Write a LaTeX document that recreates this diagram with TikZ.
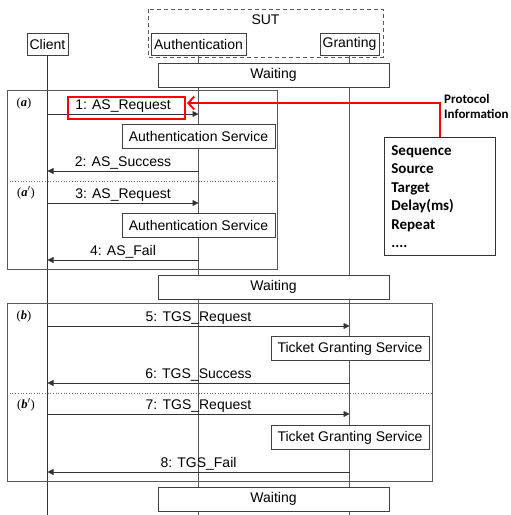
\documentclass[tikz,border=0pt]{standalone}
\usepackage{fontspec}
\setmainfont{Liberation Sans}
\newfontfamily\protofont{Carlito}
\newfontfamily\serifbi{Liberation Serif}
\usetikzlibrary{arrows.meta}
\tikzset{
  x=1pt, y=-1pt,
  lane/.style={draw=black!75, fill=white, line width=0.8pt, inner sep=0pt, font=\fontsize{14}{16}\selectfont},
  wait/.style={lane, minimum width=231pt, minimum height=24pt},
  svc/.style={lane, minimum height=24pt},
  life/.style={draw=black!65, line width=0.8pt},
  frm/.style={draw=black!65, line width=0.9pt},
  sep/.style={draw=black!60, dotted, line width=0.7pt},
  msg/.style={draw=black!80, line width=0.8pt, -{Triangle[length=6pt,width=6pt]}},
  msglabel/.style={font=\fontsize{14}{16}\selectfont, inner sep=1pt, above},
  tag/.style={font=\serifbi\fontsize{12.5}{14}\selectfont, inner sep=0pt},
  redline/.style={draw=red, line width=1.8pt, -{Straight Barb[length=6pt,width=13pt,line width=1.8pt]}}
}
\begin{document}
\begin{tikzpicture}
\useasboundingbox (0,0) rectangle (511,515);
% SUT group
\draw[black!65, dashed, line width=0.8pt, dash pattern=on 4pt off 3pt] (148,9) rectangle (383,57);
\node[font=\fontsize{14}{16}\selectfont] (sut) at (265.5,20) {SUT};
% heads
\node[lane, minimum width=41pt, minimum height=22pt] (client) at (47.5,44) {Client};
\node[lane, minimum width=95pt, minimum height=22pt] (auth) at (198.5,44) {Authentication};
\node[lane, minimum width=59pt, minimum height=22pt] (grant) at (349.5,44) {Granting};
% lifeline ends
\coordinate (cend) at (47.5,515);
\coordinate (aend) at (198.5,515);
\coordinate (gend) at (349.5,515);
\draw[life, draw=black!80] (client.south) -- (cend);
\draw[life] (auth.south) -- (aend);
\draw[life] (grant.south) -- (gend);
% frames
\draw[frm] (7,90) rectangle (277,269);
\draw[frm] (7,303) rectangle (432,481);
\draw[sep] (7,181) -- (277,181);
\draw[sep] (7,393) -- (432,393);
\node[tag] (ta) at (24,103) {(\textbf{\textit{a}})};
\node[tag] (ta2) at (26,193) {(\textbf{\textit{a}}$'$)};
\node[tag] (tb) at (24,316) {(\textbf{\textit{b}})};
\node[tag] (tb2) at (26,405) {(\textbf{\textit{b}}$'$)};
% waiting boxes
\node[wait] (w1) at (273.5,75) {Waiting};
\node[wait] (w2) at (273.5,287) {Waiting};
\node[wait] (w3) at (273.5,499) {Waiting};
% service boxes
\node[svc, minimum width=153pt] (as1) at (198.5,136.5) {Authentication Service};
\node[svc, minimum width=153pt] (as2) at (198.5,225.5) {Authentication Service};
\node[svc, minimum width=158pt] (tgs1) at (350,348.5) {Ticket Granting Service};
\node[svc, minimum width=158pt] (tgs2) at (350,437.5) {Ticket Granting Service};
% message points
\foreach \n/\y in {1/114,2/171,3/203,4/260,5/326,6/383,7/414,8/472}{
  \coordinate (c\n) at (47.5,\y);
  \coordinate (a\n) at (198.5,\y);
  \coordinate (g\n) at (349.5,\y);
}
\draw[msg] (c1) -- node[msglabel] {1: AS\_Request} (a1);
\draw[msg] (a2) -- node[msglabel] {2: AS\_Success} (c2);
\draw[msg] (c3) -- node[msglabel] {3: AS\_Request} (a3);
\draw[msg] (a4) -- node[msglabel] {4: AS\_Fail} (c4);
\draw[msg] (c5) -- node[msglabel] {5: TGS\_Request} (g5);
\draw[msg] (g6) -- node[msglabel] {6: TGS\_Success} (c6);
\draw[msg] (c7) -- node[msglabel] {7: TGS\_Request} (g7);
\draw[msg] (g8) -- node[msglabel] {8: TGS\_Fail} (c8);
% highlight
\node[draw=red, line width=1.4pt, minimum width=117pt, minimum height=22pt, inner sep=0pt] (hl) at (126.5,108) {};
% protocol info
\node[draw=black!80, fill=white, line width=0.8pt, anchor=north west, text width=97pt, inner xsep=7pt, inner ysep=0pt,
  minimum height=118pt, align=left, font=\protofont\bfseries\fontsize{15}{18.5}\selectfont] (pbox) at (384,137)
  {Sequence\\Source\\Target\\Delay(ms)\\Repeat\\....};
\node[anchor=west, align=left, inner sep=0pt, font=\protofont\bfseries\fontsize{13}{15}\selectfont] (pinfo) at (444,106.5) {Protocol\\Information};
\coordinate (rtip) at (187,103);
\draw[redline] (pbox.north) |- (rtip);
\end{tikzpicture}
\end{document}
